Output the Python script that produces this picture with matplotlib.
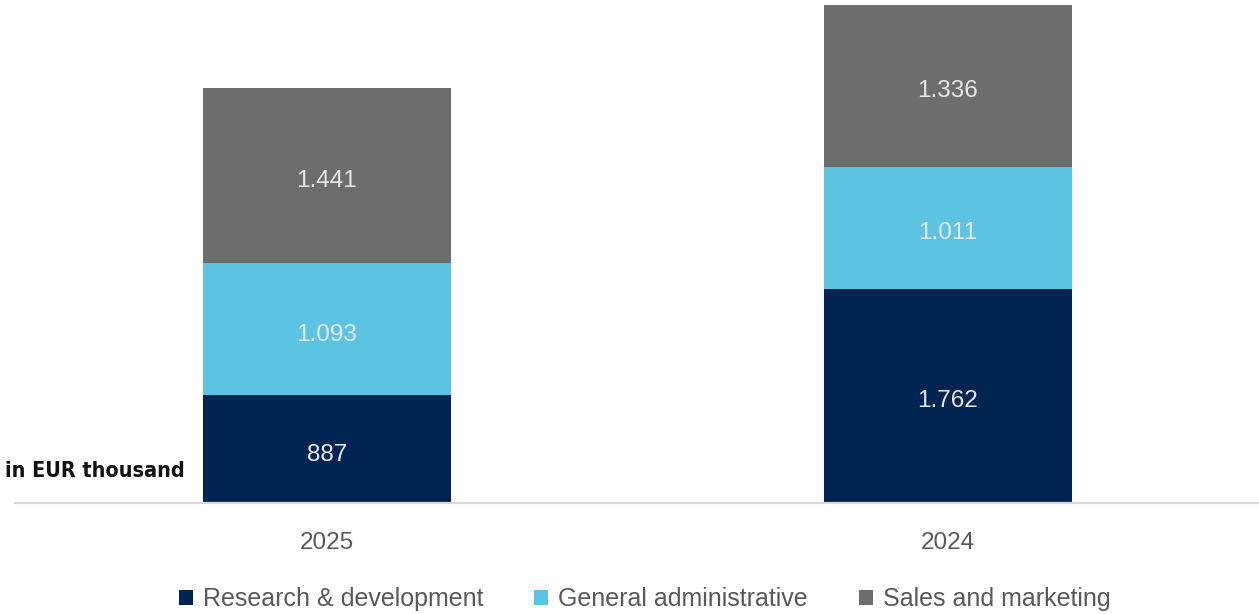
import matplotlib
matplotlib.use("Agg")
import matplotlib.pyplot as plt

# ---------- Data ----------
years = ["2025", "2024"]
series_names = ["Research & development", "General administrative", "Sales and marketing"]
research = [887, 1762]
general_admin = [1093, 1011]
sales = [1441, 1336]
value_labels = {
    "Research & development": ["887", "1.762"],
    "General administrative": ["1.093", "1.011"],
    "Sales and marketing": ["1.441", "1.336"],
}
colors = ["#002452", "#5DC3E2", "#6D6D6D"]

W, H = 1259, 614
fig = plt.figure(figsize=(W / 100, H / 100), dpi=100)
# axes: x from 15px to right edge, baseline at 503px from top
ax = fig.add_axes([15 / W, (H - 503) / H, (W - 15) / W, 503 / H])

x = [0, 1]
bottom = [0, 0]
for name, vals, col in zip(series_names, [research, general_admin, sales], colors):
    ax.bar(x, vals, width=0.4, bottom=bottom, color=col, label=name, linewidth=0)
    for xi, b, v, lab in zip(x, bottom, vals, value_labels[name]):
        ax.annotate(lab, (xi, b + v / 2), xytext=(0, -2), textcoords="offset points",
                    ha="center", va="center_baseline", fontsize=17.5,
                    color="#E8E8E8", family=["Liberation Sans", "DejaVu Sans"])
    bottom = [b + v for b, v in zip(bottom, vals)]

ax.set_xlim(-0.502, 1.5008)
ax.set_ylim(0, 4150)
for s in ["top", "right", "left"]:
    ax.spines[s].set_visible(False)
ax.spines["bottom"].set_color("#D9D9D9")
ax.spines["bottom"].set_linewidth(1.6)
ax.set_yticks([])
ax.set_xticks(x)
ax.set_xticklabels(years, fontsize=17.5, color="#595959",
                   family=["Liberation Sans", "DejaVu Sans"])
ax.tick_params(axis="x", length=0, pad=21)

fig.text(5 / W, 1 - 471 / H, "in EUR thousand", ha="left", va="center",
         fontsize=15.5, fontweight="bold", fontstretch="condensed", color="#111111",
         family=["DejaVu Sans"])

leg = fig.legend(loc="center", bbox_to_anchor=(0.512, 1 - 599 / H), ncol=3,
                 frameon=False, handlelength=0.55, handleheight=0.55,
                 handletextpad=0.4, columnspacing=2.05,
                 prop={"family": ["Liberation Sans", "DejaVu Sans"], "size": 18})
for t in leg.get_texts():
    t.set_color("#595959")

fig.savefig("out.png", dpi=100)
